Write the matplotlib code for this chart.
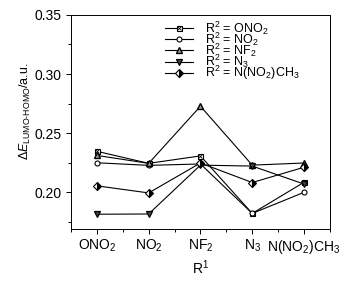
import matplotlib
matplotlib.use("Agg")
import matplotlib.pyplot as plt
from matplotlib.ticker import MultipleLocator, FixedLocator
from matplotlib.legend_handler import HandlerTuple

plt.rcParams["font.family"] = ["Liberation Sans", "DejaVu Sans"]
plt.rcParams["mathtext.fontset"] = "custom"
plt.rcParams["mathtext.rm"] = "Liberation Sans"
plt.rcParams["mathtext.it"] = "Liberation Sans:italic"

# ---- data ----
r1_labels = [r"ONO$_2$", r"NO$_2$", r"NF$_2$", r"N$_3$", r"N(NO$_2$)CH$_3$"]
ono2 = [0.2347, 0.2245, 0.2308, 0.1822, 0.2085]
no2 = [0.2250, 0.2228, 0.2240, 0.1822, 0.2000]
nf2 = [0.2312, 0.2245, 0.2728, 0.2230, 0.2248]
n3 = [0.1815, 0.1817, 0.2230, 0.2222, 0.2070]
nno2ch3 = [0.2055, 0.1995, 0.2248, 0.2083, 0.2212]

legend_labels = [r"R$^2$ = ONO$_2$", r"R$^2$ = NO$_2$", r"R$^2$ = NF$_2$",
                 r"R$^2$ = N$_3$", r"R$^2$ = N(NO$_2$)CH$_3$"]

x = list(range(len(r1_labels)))

fig = plt.figure(figsize=(3.48, 2.81), dpi=100)
ax = fig.add_axes([0.204, 0.185, 0.744, 0.762])

lw = 0.8
ms = 3.6
h1a, = ax.plot(x, ono2, color="black", lw=lw, marker="s", ms=ms,
               mfc="white", mec="black", mew=0.8)
h1b, = ax.plot(x, ono2, color="black", lw=0, marker="x", ms=ms - 1, mew=0.6)
h2, = ax.plot(x, no2, color="black", lw=lw, marker="o", ms=ms,
              mfc="white", mec="black", mew=0.8)
h3, = ax.plot(x, nf2, color="black", lw=lw, marker="^", ms=ms + 0.8,
              mfc="#999999", mec="black", mew=1.0)
h4, = ax.plot(x, n3, color="black", lw=lw, marker="v", ms=ms + 0.8,
              mfc="#444444", mec="black", mew=0.9)
h5, = ax.plot(x, nno2ch3, color="black", lw=lw, marker="D", ms=ms,
              fillstyle="right", mfc="black", mfcalt="white", mec="black", mew=0.8)

ax.set_xlim(-0.5, 4.5)
ax.set_ylim(0.169, 0.35)
ax.xaxis.set_major_locator(FixedLocator(x))
ax.xaxis.set_minor_locator(FixedLocator([-0.5, 0.5, 1.5, 2.5, 3.5, 4.5]))
ax.set_xticklabels(r1_labels)
ax.yaxis.set_major_locator(MultipleLocator(0.05))
ax.yaxis.set_minor_locator(MultipleLocator(0.025))
ax.yaxis.set_major_formatter(matplotlib.ticker.FormatStrFormatter("%.2f"))

ax.tick_params(which="both", direction="out", labelsize=10, width=0.7)
ax.tick_params(which="major", length=3.5)
ax.tick_params(which="minor", length=2)
ax.tick_params(axis="x", pad=3)
for s in ax.spines.values():
    s.set_linewidth(0.7)

ax.set_xlabel(r"R$^1$", fontsize=10, labelpad=2)
ax.set_ylabel(r"$\Delta\mathit{E}_{\mathrm{LUMO\text{-}HOMO}}$/a.u.", fontsize=9)
ax.yaxis.set_label_coords(-0.145, 0.55)

ax.legend([(h1a, h1b), h2, h3, h4, h5], legend_labels,
          handler_map={tuple: HandlerTuple(ndivide=1)},
          loc="upper left", bbox_to_anchor=(0.355, 0.99), frameon=False,
          fontsize=9, handlelength=2.2, handletextpad=1.0,
          labelspacing=-0.5, borderaxespad=0.0, borderpad=0.2)

fig.savefig("out.png", dpi=100)
